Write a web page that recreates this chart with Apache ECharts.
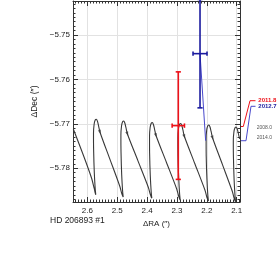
<!DOCTYPE html>
<html><head><meta charset="utf-8">
<script src="https://cdn.jsdelivr.net/npm/echarts@6/dist/echarts.min.js"></script>
<style>html,body{margin:0;padding:0;background:#fff}#c{width:277px;height:268px}</style>
</head><body><div id="c"></div>
<script>
// ---- data ----
const xRange = [2.0890, 2.6479];
const yRange = [-5.78759, -5.74235];
const xTicks = [2.6, 2.5, 2.4, 2.3, 2.2, 2.1];
const yTicks = [-5.75, -5.76, -5.77, -5.78];

const trackX = [
 2.6469, 2.6110, 2.5859, 2.5769, 2.5736,
 2.5716, 2.5736, 2.5766, 2.5789, 2.5793, 2.5772, 2.5736, 2.5699, 2.5662, 2.5625, 2.5575, 2.5245, 2.4916, 2.4852, 2.4815,
 2.4799, 2.4819, 2.4849, 2.4872, 2.4876, 2.4855, 2.4819, 2.4782, 2.4745, 2.4708, 2.4658, 2.4308, 2.3959, 2.3895, 2.3858,
 2.3841, 2.3861, 2.3892, 2.3915, 2.3918, 2.3898, 2.3861, 2.3825, 2.3788, 2.3751, 2.3701, 2.3354, 2.3008, 2.2944, 2.2908,
 2.2891, 2.2911, 2.2941, 2.2965, 2.2968, 2.2948, 2.2911, 2.2874, 2.2837, 2.2801, 2.2750, 2.2407, 2.2064, 2.2001, 2.1964,
 2.1947, 2.1967, 2.1997, 2.2021, 2.2024, 2.2004, 2.1967, 2.1930, 2.1894, 2.1857, 2.1807, 2.1480, 2.1154, 2.1090, 2.1054,
 2.1037, 2.1057, 2.1087, 2.1110, 2.1114, 2.1094, 2.1057, 2.1020, 2.0983, 2.0946, 2.0903
];
const trackY = [
 -5.77116, -5.77746, -5.78219, -5.78455, -5.78556,
 -5.78597, -5.78462, -5.78102, -5.77584, -5.77210, -5.77008, -5.76913, -5.76895, -5.76940, -5.77041, -5.77188, -5.77793, -5.78399, -5.78556, -5.78624,
 -5.78646, -5.78511, -5.78151, -5.77633, -5.77251, -5.77048, -5.76954, -5.76936, -5.76981, -5.77082, -5.77228, -5.77827, -5.78426, -5.78583, -5.78651,
 -5.78673, -5.78538, -5.78178, -5.77660, -5.77285, -5.77082, -5.76987, -5.76969, -5.77014, -5.77116, -5.77262, -5.77864, -5.78466, -5.78624, -5.78691,
 -5.78714, -5.78579, -5.78219, -5.77701, -5.77307, -5.77104, -5.77010, -5.76992, -5.77037, -5.77138, -5.77285, -5.77887, -5.78489, -5.78646, -5.78714,
 -5.78736, -5.78601, -5.78241, -5.77723, -5.77341, -5.77138, -5.77044, -5.77026, -5.77071, -5.77172, -5.77318, -5.77912, -5.78507, -5.78664, -5.78732,
 -5.78754, -5.78619, -5.78259, -5.77741, -5.77386, -5.77183, -5.77089, -5.77071, -5.77116, -5.77217, -5.77341
];
const trackLabels = ['2008.0', '2014.0'];
const arrowX = [2.5575, 2.4658, 2.3701, 2.2750, 2.1807];
const arrowY = [-5.77188, -5.77228, -5.77262, -5.77285, -5.77318];

const epochs = ['2011.8', '2012.7'];
const obsX = [2.2955, 2.2228];
const obsY = [-5.7704, -5.7542];
const obsXErr = [0.0206, 0.0234];
const obsYErr = [0.0121, 0.0122];
const predX = [2.2952, 2.2040];
const predY = [-5.7706, -5.7738];
const starName = 'HD 206893 #1';

// ---- styles ----
const obsColors = ['#ee1119', '#1a1a9e'];
const leaderColors = ['#ee1119', '#4848cc'];
const FONT = 'Liberation Sans, Arial, sans-serif';

function range(a, b, step, skipEvery) {
  const out = [];
  const n = Math.round((b - a) / step);
  for (let i = 0; i <= n; i++) {
    const v = +(a + i * step).toFixed(6);
    out.push(v);
  }
  return out;
}
const xMinor = range(2.09, 2.64, 0.01).filter(v => !xTicks.some(t => Math.abs(t - v) < 1e-6));
const yMinor = range(-5.787, -5.743, 0.001).filter(v => !yTicks.some(t => Math.abs(t - v) < 1e-6));

function xAxisDef(pos, major, main) {
  return {
    type: 'value', position: pos, min: xRange[0], max: xRange[1], inverse: true,
    axisLine: { show: main, onZero: false, lineStyle: { color: '#333', width: 1 } },
    axisTick: { show: true, inside: true, length: major ? 5 : 2.5, customValues: major ? xTicks : xMinor,
      lineStyle: { color: '#333', width: 1 } },
    axisLabel: { show: main && pos === 'bottom', customValues: xTicks, margin: 5,
      formatter: v => v.toFixed(1), color: '#222', fontSize: 8, fontFamily: FONT },
    splitLine: { show: main && pos === 'bottom', lineStyle: { color: '#e2e2e2', width: 1 } },
    name: main && pos === 'bottom' ? 'ΔRA (′′)' : '', nameLocation: 'middle', nameGap: 14,
    nameTextStyle: { color: '#222', fontSize: 8, fontFamily: FONT }
  };
}
function yAxisDef(pos, major, main) {
  return {
    type: 'value', position: pos, min: yRange[0], max: yRange[1],
    axisLine: { show: main, onZero: false, lineStyle: { color: '#333', width: 1 } },
    axisTick: { show: true, inside: true, length: major ? 5 : 2.5, customValues: major ? yTicks : yMinor,
      lineStyle: { color: '#333', width: 1 } },
    axisLabel: { show: main && pos === 'left', customValues: yTicks, margin: 3,
      formatter: v => (v < 0 ? '−' : '') + Math.abs(v).toFixed(2), color: '#222', fontSize: 8, fontFamily: FONT },
    splitLine: { show: main && pos === 'left', lineStyle: { color: '#e2e2e2', width: 1 } },
    name: main && pos === 'left' ? 'ΔDec (′′)' : '', nameLocation: 'middle', nameGap: 32,
    nameTextStyle: { color: '#222', fontSize: 8.5, fontFamily: FONT }
  };
}

const chart = echarts.init(document.getElementById('c'), null, { renderer: 'canvas' });
const option = {
  animation: false,
  backgroundColor: '#fff',
  grid: { left: 73, right: 37, top: 1, bottom: 66, containLabel: false, outerBoundsMode: 'none' },
  xAxis: [xAxisDef('bottom', true, true), xAxisDef('top', true, true), xAxisDef('bottom', false, false), xAxisDef('top', false, false)],
  yAxis: [yAxisDef('left', true, true), yAxisDef('right', true, true), yAxisDef('left', false, false), yAxisDef('right', false, false)],
  series: [
    {
      type: 'line', name: 'track', xAxisIndex: 0, yAxisIndex: 0,
      data: trackX.map((x, i) => [x, trackY[i]]),
      smooth: 0.3, showSymbol: false, symbol: 'none', clip: true,
      lineStyle: { color: '#383838', width: 1.1 }, z: 3
    },
    {
      type: 'scatter', name: 'arrows', xAxisIndex: 0, yAxisIndex: 0,
      data: arrowX.map((x, i) => [x, arrowY[i]]),
      symbol: 'triangle', symbolSize: [3, 4.5], symbolRotate: -161.6,
      itemStyle: { color: '#383838' }, z: 4
    },
    ...obsX.map((x, i) => ({
      type: 'line', name: 'res' + i, xAxisIndex: 0, yAxisIndex: 0,
      data: [[x, obsY[i]], [predX[i], predY[i]]],
      showSymbol: false, symbol: 'none', lineStyle: { color: leaderColors[i], width: 1 }, z: 5
    })),
    {
      type: 'custom', name: 'obs', xAxisIndex: 0, yAxisIndex: 0, clip: false, z: 6,
      data: obsX.map((x, i) => ({ value: [x, obsY[i], obsXErr[i], obsYErr[i]], itemStyle: { color: obsColors[i] } })),
      renderItem(params, api) {
        const x = api.value(0), y = api.value(1), ex = api.value(2), ey = api.value(3);
        const t = api.coord([x, y + ey]), b = api.coord([x, y - ey]);
        const l = api.coord([x + ex, y]), r = api.coord([x - ex, y]);
        const style = { stroke: api.visual('color'), lineWidth: 1.6, fill: null };
        const cw = 2.6, ch = 2.2;
        const ln = (x1, y1, x2, y2) => ({ type: 'line', shape: { x1, y1, x2, y2 }, style });
        return { type: 'group', children: [
          ln(t[0], t[1], b[0], b[1]),
          ln(t[0] - cw, t[1], t[0] + cw, t[1]),
          ln(b[0] - cw, b[1], b[0] + cw, b[1]),
          ln(l[0], l[1], r[0], r[1]),
          ln(l[0], l[1] - ch, l[0], l[1] + ch),
          ln(r[0], r[1] - ch, r[0], r[1] + ch)
        ] };
      }
    }
  ]
};
chart.setOption(option);

// ---- annotations on the right (positions derived from data via the axes) ----
const rightX = chart.convertToPixel({ xAxisIndex: 0 }, xRange[0]);
const graphics = [];
const labelY = [100.7, 106.3];
const bendX = [[243.3, 250], [246, 251]];
epochs.forEach((ep, i) => {
  const py = chart.convertToPixel({ yAxisIndex: 0 }, predY[i]);
  graphics.push({
    type: 'polyline', silent: true,
    shape: { points: [[rightX, py], [bendX[i][0], py], [bendX[i][1], labelY[i]], [255.5, labelY[i]]] },
    style: { stroke: leaderColors[i], lineWidth: 1, fill: null }
  });
  graphics.push({
    type: 'text', silent: true, x: 258.3, y: labelY[i],
    style: { text: ep, fill: obsColors[i], font: 'bold 6px ' + FONT, textVerticalAlign: 'middle', verticalAlign: 'middle' }
  });
});
[0, trackX.length - 1].forEach((idx, k) => {
  const py = chart.convertToPixel({ yAxisIndex: 0 }, trackY[idx]);
  graphics.push({
    type: 'text', silent: true, x: 256.7, y: py - 1,
    style: { text: trackLabels[k], fill: '#555', font: '5px ' + FONT, textVerticalAlign: 'middle', verticalAlign: 'middle' }
  });
});
graphics.push({
  type: 'text', silent: true, x: 50, y: 221,
  style: { text: starName, fill: '#222', font: '8.5px ' + FONT, verticalAlign: 'middle', textVerticalAlign: 'middle' }
});
chart.setOption({ graphic: graphics });
</script>
</body></html>
